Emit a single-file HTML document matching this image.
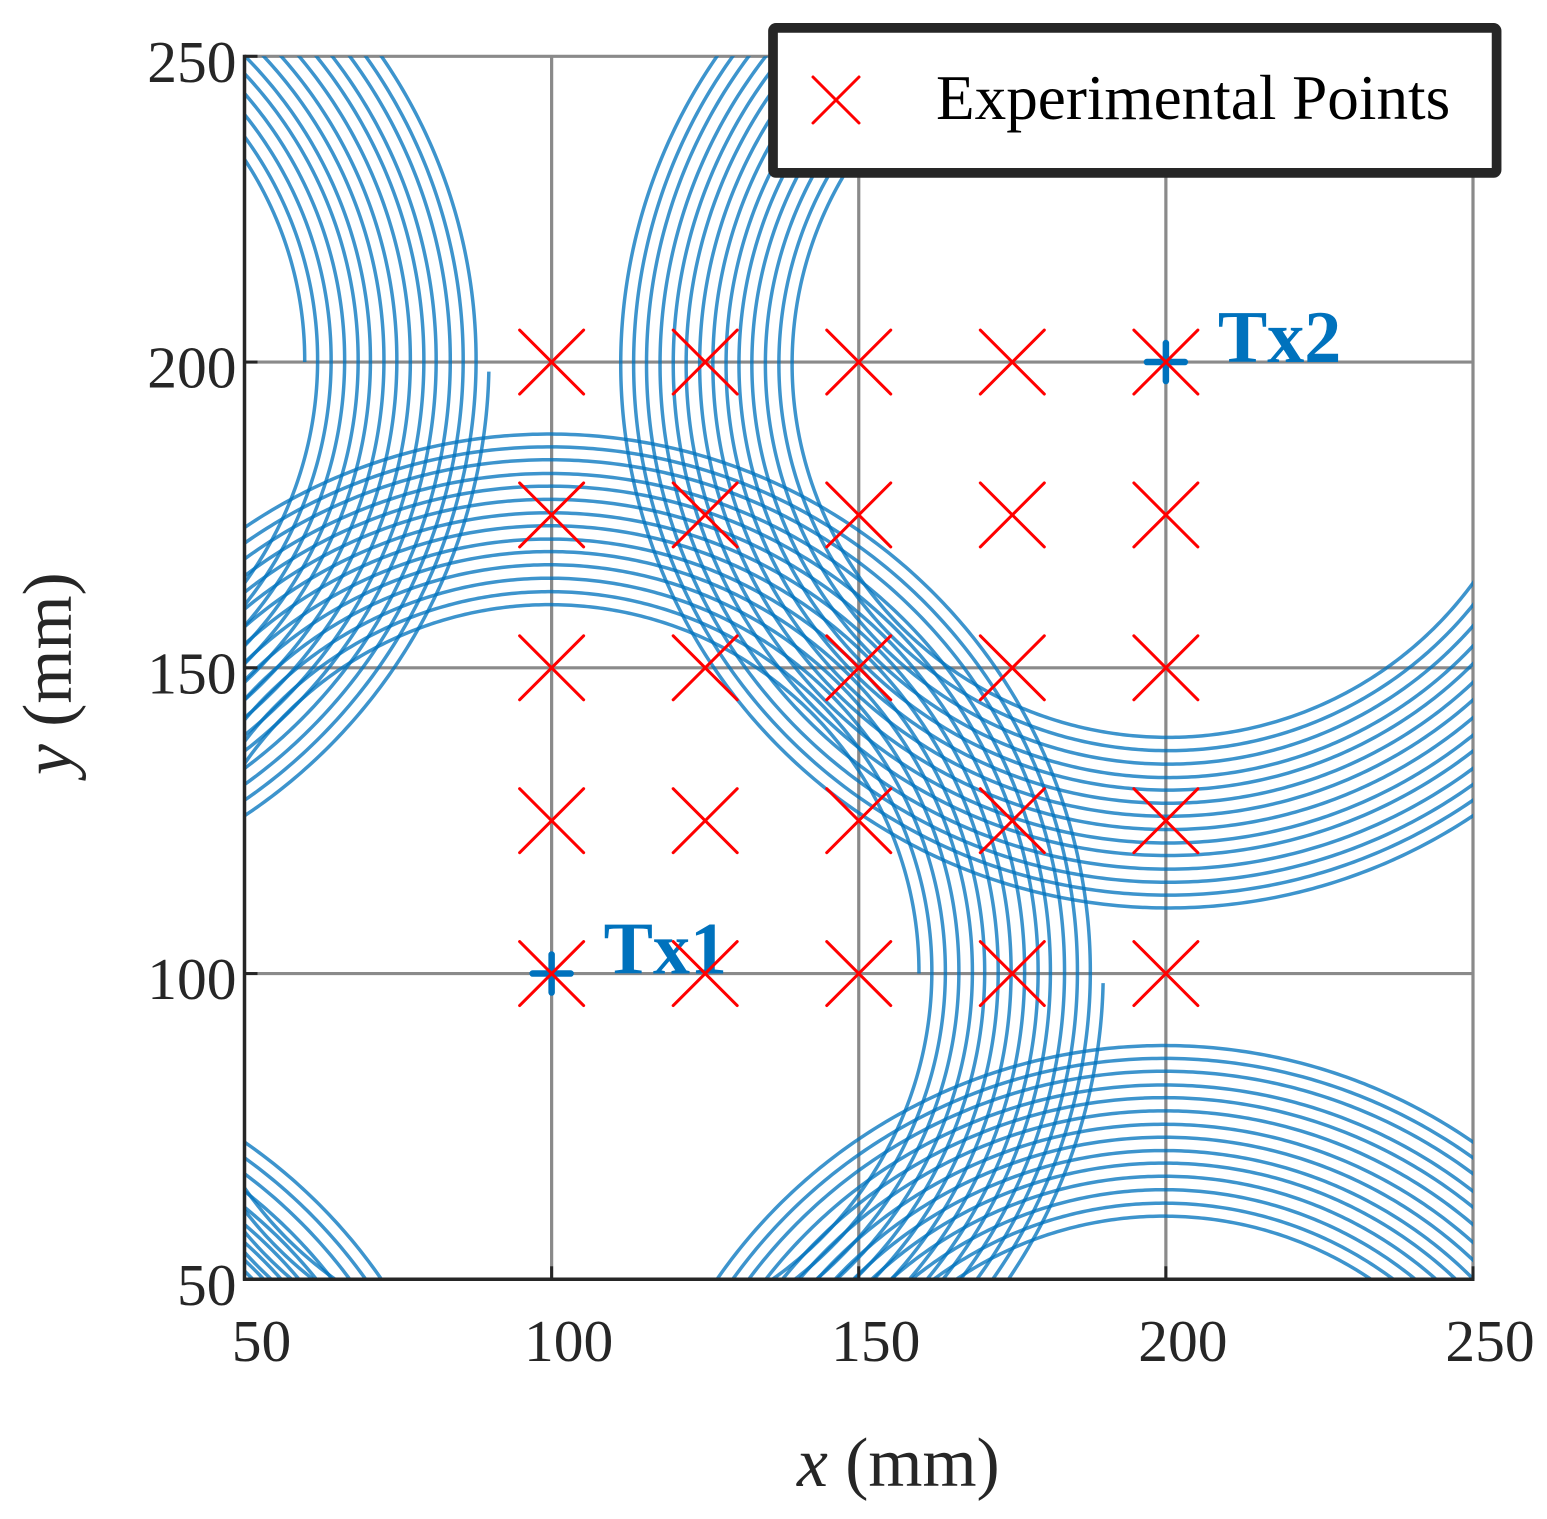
<!DOCTYPE html>
<html lang="en">
<head>
<meta charset="utf-8">
<title>Experimental Points and Coil Layout</title>
<style>
  html, body { margin: 0; padding: 0; background: #ffffff; width: 1547px; height: 1519px; overflow: hidden; }
  svg { display: block; font-family: "Liberation Serif", serif; }
</style>
</head>
<body>
<svg id="chart" xmlns="http://www.w3.org/2000/svg" width="1547" height="1519" viewBox="0 0 1547 1519">
  <defs>
    <clipPath id="plot-clip"><rect x="244.5" y="56.3" width="1228.5" height="1223"></rect></clipPath>
  </defs>
  <g id="grid-layer"></g>
  <g id="coil-layer" clip-path="url(#plot-clip)"></g>
  <g id="tx-layer"></g>
  <g id="tx-label-layer"></g>
  <g id="point-layer"></g>
  <g id="axis-layer"></g>
  <text x="797" y="1486" font-size="69.5" fill="#262626"><tspan font-style="italic">x</tspan> (mm)</text>
  <text transform="translate(71,775) rotate(-90)" font-size="69.5" fill="#262626"><tspan font-style="italic">y</tspan> (mm)</text>
  <g>
    <rect x="773" y="27.9" width="723.6" height="145" rx="3" fill="#ffffff" stroke="#262626" stroke-width="9.7"></rect>
    <g stroke="#ff0000" stroke-width="3" stroke-linecap="round">
      <line x1="813" y1="77" x2="859" y2="123"></line>
      <line x1="813" y1="123" x2="859" y2="77"></line>
    </g>
    <text x="936" y="119" font-size="63.2" fill="#000000">Experimental Points</text>
  </g>
</svg>
<script>
// Axis ticks
const xTicks = [50, 100, 150, 200, 250];
const yTicks = [50, 100, 150, 200, 250];
const xTickLabels = ["50", "100", "150", "200", "250"];
const yTickLabels = ["50", "100", "150", "200", "250"];

// Experimental grid of measurement points (mm)
const pointXs = [100, 125, 150, 175, 200];
const pointYs = [100, 125, 150, 175, 200];

// Transmitters
const txNames = ["Tx1", "Tx2"];
const txXs = [100, 200];
const txYs = [100, 200];

// Coil centres (mm)
const coilCenterXs = [100, 200, 0, 200, 0];
const coilCenterYs = [100, 200, 200, 0, 0];

// Winding radius read at the start of every turn (mm), innermost to outermost
const turnRadii = [59.8, 61.9, 64.1, 66.3, 68.5, 70.5, 72.7, 74.8, 77.0, 79.2, 81.2, 83.5, 85.6, 87.7, 89.8];
// Degrees short of the final full turn where the winding stops
const endGapDegrees = 0.85;

const SVG_NS = "http://www.w3.org/2000/svg";
function xScale(v) { return 244.5 + (v - 50) * 6.1425; }
function yScale(v) { return 1279.3 - (v - 50) * 6.115; }
function rScaleX(v) { return v * 6.1425; }
function rScaleY(v) { return v * 6.115; }

function make(tag, attrs) {
  const el = document.createElementNS(SVG_NS, tag);
  Object.keys(attrs).forEach(function (k) { el.setAttribute(k, attrs[k]); });
  return el;
}

const gridLayer = document.getElementById("grid-layer");
const coilLayer = document.getElementById("coil-layer");
const txLayer = document.getElementById("tx-layer");
const txLabelLayer = document.getElementById("tx-label-layer");
const pointLayer = document.getElementById("point-layer");
const axisLayer = document.getElementById("axis-layer");

// Grid lines
xTicks.forEach(function (t) {
  if (t === xTicks[0]) return;
  const line = make("line", { x1: xScale(t), x2: xScale(t), y1: yScale(250), y2: yScale(50), stroke: "#8a8a8a", "stroke-width": 3.2 });
  
  
  gridLayer.appendChild(line);
});
yTicks.forEach(function (t) {
  if (t === yTicks[0]) return;
  const line = make("line", { x1: xScale(50), x2: xScale(250), y1: yScale(t), y2: yScale(t), stroke: "#8a8a8a", "stroke-width": 3.2 });
  
  
  gridLayer.appendChild(line);
});

// Coil windings: a continuous spiral through the turn radii, around each centre.
// Only the portion near the plot area is emitted; the clip path trims the rest.
function nearPlot(px, py) {
  return px > xScale(50) - 8 && px < xScale(250) + 8 && py > yScale(250) - 8 && py < yScale(50) + 8;
}
coilCenterXs.forEach(function (cx, c) {
  const cy = coilCenterYs[c];
  let d = "";
  let penDown = false;
  const turns = turnRadii.length - 1;
  for (let turn = 0; turn < turns; turn++) {
    const r0 = turnRadii[turn];
    const r1 = turnRadii[turn + 1];
    const lastDeg = turn === turns - 1 ? 360 - endGapDegrees : 360;
    for (let deg = 0; deg <= lastDeg; deg += 0.5) {
      const r = r0 + (r1 - r0) * deg / 360;
      const a = deg * Math.PI / 180;
      const px = xScale(cx) + rScaleX(r) * Math.cos(a);
      const py = yScale(cy) - rScaleY(r) * Math.sin(a);
      if (nearPlot(px, py)) {
        d += (penDown ? "L" : "M") + px.toFixed(2) + " " + py.toFixed(2);
        penDown = true;
      } else {
        penDown = false;
      }
    }
  }
  const path = make("path", { d: d, fill: "none", stroke: "#0072BD", "stroke-opacity": 0.76, "stroke-width": 3.5 });
  
  
  coilLayer.appendChild(path);
});

// Transmitter plus markers and labels
txNames.forEach(function (name, i) {
  const px = xScale(txXs[i]);
  const py = yScale(txYs[i]);
  const g = make("g", { stroke: "#0072BD", "stroke-width": 6.5, "stroke-linecap": "round" });
  
  
  g.appendChild(make("line", { x1: px - 19, x2: px + 19, y1: py, y2: py }));
  g.appendChild(make("line", { x1: px, x2: px, y1: py - 19, y2: py + 19 }));
  txLayer.appendChild(g);
  const label = make("text", { x: px + 52, y: py, "font-size": 74, "font-weight": "bold", fill: "#0072BD" });
  
  
  label.textContent = name;
  txLabelLayer.appendChild(label);
});

// Experimental points as red crosses
pointYs.forEach(function (vy) {
  pointXs.forEach(function (vx) {
    const px = xScale(vx);
    const py = yScale(vy);
    const g = make("g", { stroke: "#ff0000", "stroke-width": 3, "stroke-linecap": "round" });
    
    
    g.appendChild(make("line", { x1: px - 32, y1: py - 32, x2: px + 32, y2: py + 32 }));
    g.appendChild(make("line", { x1: px - 32, y1: py + 32, x2: px + 32, y2: py - 32 }));
    pointLayer.appendChild(g);
  });
});

// Axes
const leftAxis = make("line", { x1: xScale(50), x2: xScale(50), y1: yScale(250) - 1.5, y2: yScale(50) + 1.5, stroke: "#262626", "stroke-width": 3.5 });


axisLayer.appendChild(leftAxis);
const bottomAxis = make("line", { x1: xScale(50) - 1.5, x2: xScale(250) + 1.5, y1: yScale(50), y2: yScale(50), stroke: "#262626", "stroke-width": 3.5 });


axisLayer.appendChild(bottomAxis);

xTicks.forEach(function (t, i) {
  const tick = make("line", { x1: xScale(t), x2: xScale(t), y1: yScale(50), y2: yScale(50) - 13, stroke: "#262626", "stroke-width": 3 });
  
  
  axisLayer.appendChild(tick);
  const label = make("text", { x: xScale(t) + 17, y: 1361, "font-size": 59.5, "text-anchor": "middle", fill: "#262626" });
  
  
  label.textContent = xTickLabels[i];
  axisLayer.appendChild(label);
});
yTicks.forEach(function (t, i) {
  const tick = make("line", { x1: xScale(50), x2: xScale(50) + 13, y1: yScale(t), y2: yScale(t), stroke: "#262626", "stroke-width": 3 });
  
  
  axisLayer.appendChild(tick);
  const label = make("text", { x: 236.5, y: yScale(t) + 25.5, "font-size": 59.5, "text-anchor": "end", fill: "#262626" });
  
  
  label.textContent = yTickLabels[i];
  axisLayer.appendChild(label);
});
</script>
</body>
</html>
